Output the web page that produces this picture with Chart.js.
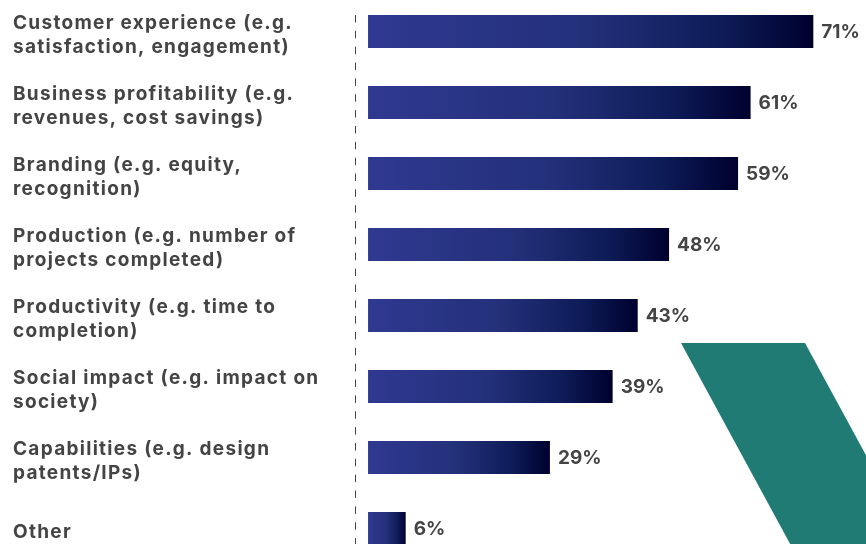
<!DOCTYPE html>
<html>
<head>
<meta charset="utf-8">
<script src="https://cdn.jsdelivr.net/npm/chart.js@4.4.0/dist/chart.umd.min.js"></script>
<style>
  html, body { margin: 0; padding: 0; background: #fff; overflow: hidden; }
  #wrap { position: absolute; left: 0; top: -4px; width: 866px; height: 568px; }
</style>
</head>
<body>
<div id="wrap"><canvas id="myChart"></canvas></div>
<script>
const categorias = [
  ['Customer experience (e.g.', 'satisfaction, engagement)'],
  ['Business profitability (e.g.', 'revenues, cost savings)'],
  ['Branding (e.g. equity,', 'recognition)'],
  ['Production (e.g. number of', 'projects completed)'],
  ['Productivity (e.g. time to', 'completion)'],
  ['Social impact (e.g. impact on', 'society)'],
  ['Capabilities (e.g. design', 'patents/IPs)'],
  ['Other']
];
const porcentajes = [71, 61, 59, 48, 43, 39, 29, 6];

const fuente = 'Inter, "Liberation Sans", Arial, sans-serif';
const colorTexto = '#444444';

// degradado de cada barra, desde la base hasta su extremo
function degradado(context) {
  const chart = context.chart;
  const x = chart.scales.x;
  if (!chart.chartArea || !x || context.dataIndex === undefined) return '#2e3990';
  const valor = context.dataset.data[context.dataIndex];
  const x0 = x.getPixelForValue(0);
  const x1 = x.getPixelForValue(valor);
  if (!isFinite(x0) || !isFinite(x1)) return '#2e3990';
  const g = chart.ctx.createLinearGradient(x0, 0, x1, 0);
  g.addColorStop(0, '#2f3991');
  g.addColorStop(0.5, '#233079');
  g.addColorStop(0.8, '#0d1b57');
  g.addColorStop(1, '#00002e');
  return g;
}

// forma decorativa verde y linea discontinua
const decoracion = {
  id: 'decoracion',
  beforeDraw(chart) {
    const ctx = chart.ctx;
    ctx.save();
    ctx.fillStyle = '#1f7b74';
    ctx.beginPath();
    ctx.moveTo(681, 347);
    ctx.lineTo(805, 347);
    ctx.lineTo(925, 568);
    ctx.lineTo(801, 568);
    ctx.closePath();
    ctx.fill();

    const xl = Math.round(chart.chartArea.left) + 0.5;
    ctx.strokeStyle = '#444444';
    ctx.lineWidth = 1;
    ctx.setLineDash([7.5, 8.35]);
    ctx.beginPath();
    ctx.moveTo(xl, 19);
    ctx.lineTo(xl, 568);
    ctx.stroke();
    ctx.restore();
    ctx.letterSpacing = '1.3px';
  }
};

// porcentaje al final de cada barra
const etiquetas = {
  id: 'etiquetas',
  afterDatasetsDraw(chart) {
    const ctx = chart.ctx;
    const meta = chart.getDatasetMeta(0);
    ctx.save();
    ctx.letterSpacing = '0px';
    ctx.font = '700 19px ' + fuente;
    ctx.fillStyle = colorTexto;
    ctx.textAlign = 'left';
    ctx.textBaseline = 'middle';
    meta.data.forEach((bar, i) => {
      ctx.fillText(porcentajes[i] + '%', bar.x + 8, bar.y + 1);
    });
    ctx.restore();
  }
};

const ctx = document.getElementById('myChart');
new Chart(ctx, {
  type: 'bar',
  data: {
    labels: categorias,
    datasets: [{
      data: porcentajes,
      backgroundColor: degradado,
      borderWidth: 0,
      barPercentage: 0.465,
      categoryPercentage: 1
    }]
  },
  options: {
    indexAxis: 'y',
    responsive: true,
    maintainAspectRatio: false,
    animation: false,
    layout: { padding: { left: 13, right: 0, top: 0, bottom: 0 } },
    plugins: {
      legend: { display: false },
      tooltip: { enabled: false }
    },
    scales: {
      x: {
        display: false,
        min: -2.08,
        max: 79.4
      },
      y: {
        afterFit(scale) {
          scale.width = 342;
          scale.paddingTop = 0;
          scale.paddingBottom = 0;
        },
        grid: { display: false, drawTicks: false },
        border: { display: false },
        ticks: {
          crossAlign: 'far',
          padding: 0,
          labelOffset: 4,
          color: colorTexto,
          font: { family: fuente, size: 19, weight: '700', lineHeight: 1.27 }
        }
      }
    }
  },
  plugins: [decoracion, etiquetas]
});
</script>
</body>
</html>
